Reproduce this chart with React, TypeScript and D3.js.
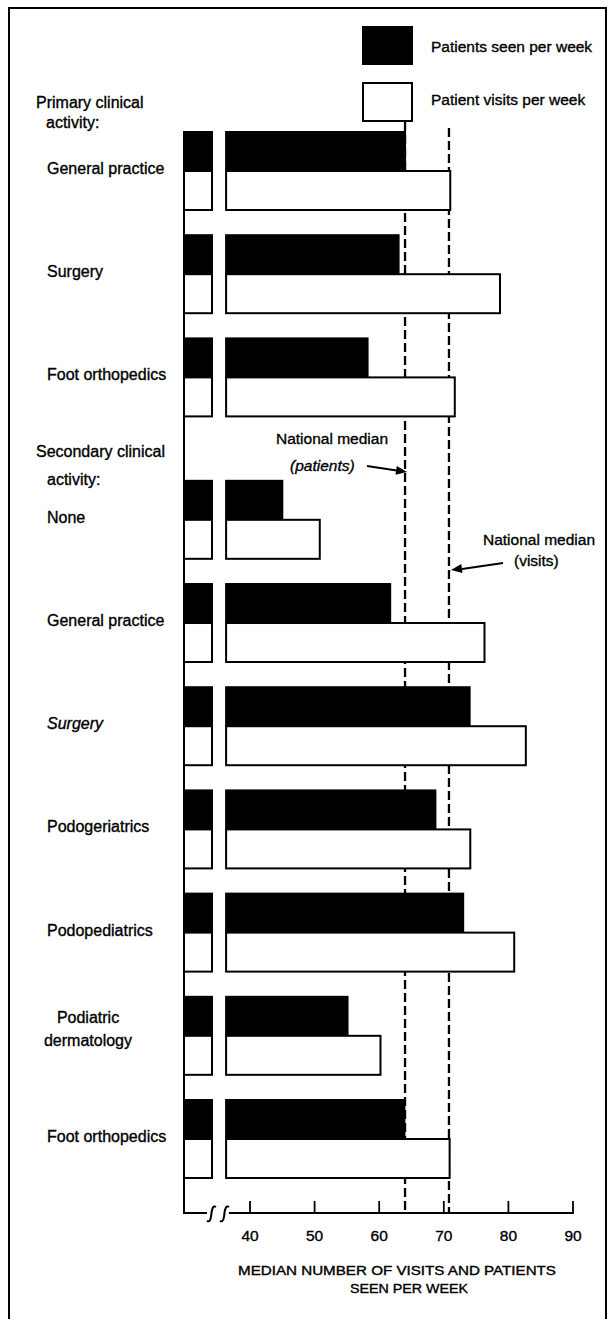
import React from "react";
import * as d3 from "d3";

// ---------- data ----------
const categories: string[][] = [
  ["General practice"],
  ["Surgery"],
  ["Foot orthopedics"],
  ["None"],
  ["General practice"],
  ["Surgery"],
  ["Podogeriatrics"],
  ["Podopediatrics"],
  ["Podiatric", "dermatology"],
  ["Foot orthopedics"],
];
const sections = [
  "primary", "primary", "primary",
  "secondary", "secondary", "secondary", "secondary", "secondary", "secondary", "secondary",
];
const italicLabel = [false, false, false, false, false, true, false, false, false, false];
const patientsSeen = [64.0, 63.0, 58.2, 45.0, 61.7, 74.0, 68.7, 73.0, 55.1, 63.9];
const patientVisits = [71.0, 78.7, 71.7, 50.8, 76.3, 82.7, 74.1, 80.9, 60.2, 70.9];
const tickValues = [40, 50, 60, 70, 80, 90];
const medianPatients = 64.0;
const medianVisits = 70.8;
const legendLabels = ["Patients seen per week", "Patient visits per week"];
const primaryHeader = ["Primary clinical", "activity:"];
const secondaryHeader = ["Secondary clinical", "activity:"];
const axisTitle = ["MEDIAN NUMBER OF VISITS AND PATIENTS", "SEEN PER WEEK"];
const breakValue = 36.3;

// ---------- layout ----------
const W = 609;
const H = 1319;
const FONT = "'Liberation Sans', Arial, Helvetica, sans-serif";
const axisX = 184;
const baseY = 1213;
const stubW = 28;
const barH = 39;
const TS = { stroke: "#000", strokeWidth: 0.35 } as const;

export default function App() {
  const x = d3.scaleLinear().domain([40, 90]).range([250, 573]);
  const slot = d3.scaleLinear().domain([0, 1]).range([171, 274.2]);
  const sectionGap = 0.38;
  const centers = categories.map((_, i) =>
    slot(i + (sections[i] === "secondary" ? sectionGap : 0))
  );
  const barStart = x(breakValue);

  const arrowHead = (x1: number, y1: number, x2: number, y2: number) => {
    const a = Math.atan2(y2 - y1, x2 - x1);
    const L = 11, Wd = 4.5;
    const bx = x2 - L * Math.cos(a), by = y2 - L * Math.sin(a);
    const px = -Math.sin(a) * Wd, py = Math.cos(a) * Wd;
    return `M${x2},${y2}L${bx + px},${by + py}L${bx - px},${by - py}Z`;
  };

  const squiggle = (sx: number) =>
    `M${sx},${baseY + 8} C${sx + 4},${baseY + 10} ${sx + 4},${baseY + 3} ${sx + 4.5},${baseY} C${sx + 5},${baseY - 4} ${sx + 6},${baseY - 8} ${sx + 9},${baseY - 6}`;

  return (
    <svg
      width={W}
      height={H}
      style={{ position: "absolute", left: 0, top: 0, background: "#fff" }}
      fontFamily={FONT}
    >
      <rect x={0} y={0} width={W} height={H} fill="#fff" />
      {/* frame */}
      <path d={`M9,${H + 5} L9,8 L606,8 L606,${H + 5}`} fill="none" stroke="#000" strokeWidth={2} />

      {/* legend */}
      <rect x={363} y={27} width={49} height={37} fill="#000" stroke="#000" strokeWidth={2} />
      <rect x={363} y={83} width={49} height={38} fill="#fff" stroke="#000" strokeWidth={2} />
      <text x={431} y={52} fontSize={15.5} fill="#000" {...TS}>{legendLabels[0]}</text>
      <text x={431} y={105} fontSize={15.5} fill="#000" {...TS}>{legendLabels[1]}</text>

      {/* headers */}
      <text x={36} y={108} fontSize={16} fill="#000" {...TS}>{primaryHeader[0]}</text>
      <text x={46} y={128} fontSize={16} fill="#000" {...TS}>{primaryHeader[1]}</text>
      <text x={36} y={457} fontSize={16} fill="#000" {...TS}>{secondaryHeader[0]}</text>
      <text x={47} y={485} fontSize={16} fill="#000" {...TS}>{secondaryHeader[1]}</text>

      {/* dashed national median lines */}
      <line x1={x(medianPatients)} x2={x(medianPatients)} y1={122} y2={baseY - 2}
        stroke="#000" strokeWidth={2.3} strokeDasharray="9 4" />
      <line x1={x(medianVisits)} x2={x(medianVisits)} y1={128} y2={baseY}
        stroke="#000" strokeWidth={2.3} strokeDasharray="9 4" />

      {/* axis */}
      <line x1={axisX} x2={axisX} y1={centers[0] - barH} y2={baseY} stroke="#000" strokeWidth={2} />
      <line x1={axisX - 1} x2={207} y1={baseY} y2={baseY} stroke="#000" strokeWidth={2} />
      <path d={squiggle(207)} fill="none" stroke="#000" strokeWidth={2} />
      <path d={squiggle(220)} fill="none" stroke="#000" strokeWidth={2} />
      <line x1={229} x2={x(90) + 1} y1={baseY} y2={baseY} stroke="#000" strokeWidth={2} />
      {tickValues.map((t) => (
        <g key={t}>
          <line x1={x(t)} x2={x(t)} y1={baseY} y2={baseY - 12} stroke="#000" strokeWidth={1.8} />
          <text x={x(t)} y={baseY + 28} fontSize={15.5} textAnchor="middle" fill="#000" {...TS}>{t}</text>
        </g>
      ))}
      <text x={397} y={1275} fontSize={12} textAnchor="middle" textLength={318}
        lengthAdjust="spacingAndGlyphs" fill="#000" {...TS}>{axisTitle[0]}</text>
      <text x={409} y={1293} fontSize={12} textAnchor="middle" textLength={118}
        lengthAdjust="spacingAndGlyphs" fill="#000" {...TS}>{axisTitle[1]}</text>

      {/* bars */}
      {categories.map((lines, i) => {
        const c = centers[i];
        return (
          <g key={i}>
            <rect x={axisX} y={c - barH} width={stubW} height={barH} fill="#000" stroke="#000" strokeWidth={2} />
            <rect x={axisX} y={c} width={stubW} height={barH} fill="#fff" stroke="#000" strokeWidth={2} />
            <rect x={barStart} y={c - barH} width={x(patientsSeen[i]) - barStart} height={barH}
              fill="#000" stroke="#000" strokeWidth={2} />
            <rect x={barStart} y={c} width={x(patientVisits[i]) - barStart} height={barH}
              fill="#fff" stroke="#000" strokeWidth={2} />
            {lines.length === 1 ? (
              <text x={47} y={c + 3} fontSize={16} fill="#000" {...TS}
                fontStyle={italicLabel[i] ? "italic" : "normal"}>{lines[0]}</text>
            ) : (
              lines.map((l, j) => (
                <text key={j} x={88} y={c - 13 + j * 23} fontSize={16} textAnchor="middle" fill="#000" {...TS}>{l}</text>
              ))
            )}
          </g>
        );
      })}

      {/* annotations */}
      <text x={276} y={444} fontSize={15.5} fill="#000" {...TS}>National median</text>
      <text x={290} y={471} fontSize={15.5} fontStyle="italic" fill="#000" {...TS}>(patients)</text>
      <line x1={367} y1={466} x2={400} y2={471} stroke="#000" strokeWidth={1.8} />
      <path d={arrowHead(367, 466, x(medianPatients) + 2, 472)} fill="#000" />

      <text x={483} y={545} fontSize={15.5} fill="#000" {...TS}>National median</text>
      <text x={514} y={566} fontSize={15.5} fill="#000" {...TS}>(visits)</text>
      <line x1={503} y1={563} x2={462} y2={569} stroke="#000" strokeWidth={1.8} />
      <path d={arrowHead(503, 563, x(medianVisits) + 2, 570)} fill="#000" />
    </svg>
  );
}
